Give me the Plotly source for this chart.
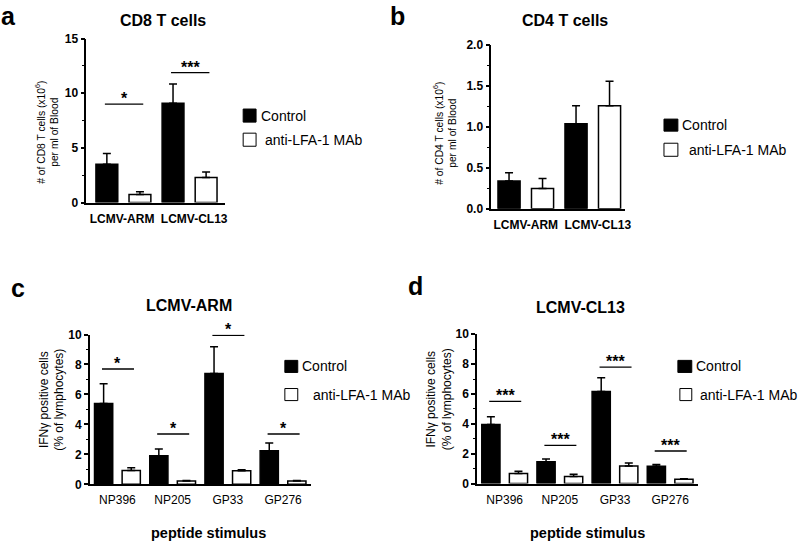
import plotly.graph_objects as go

W, H = 800, 542
FONT = "Liberation Sans, Arial, Helvetica, sans-serif"

# ---------------- data ----------------
# Panel a: CD8 T cells
a_cats = ["LCMV-ARM", "LCMV-CL13"]
a_control = [3.5, 9.1]
a_control_err = [1.0, 1.75]
a_anti = [0.73, 2.3]
a_anti_err = [0.25, 0.5]
a_sig_labels = ["*", "***"]
a_sig_y = [9.0, 11.9]

# Panel b: CD4 T cells
b_cats = ["LCMV-ARM", "LCMV-CL13"]
b_control = [0.34, 1.04]
b_control_err = [0.10, 0.22]
b_anti = [0.25, 1.26]
b_anti_err = [0.12, 0.30]

# Panel c: LCMV-ARM, IFNγ
peptides = ["NP396", "NP205", "GP33", "GP276"]
c_control = [5.4, 1.9, 7.4, 2.24]
c_control_err = [1.32, 0.46, 1.78, 0.52]
c_anti = [0.93, 0.22, 0.9, 0.22]
c_anti_err = [0.17, 0.03, 0.07, 0.03]
c_sig_labels = ["*", "*", "*", "*"]
c_sig_y = [7.7, 3.36, 9.95, 3.36]

# Panel d: LCMV-CL13, IFNγ
d_control = [3.96, 1.46, 6.16, 1.16]
d_control_err = [0.51, 0.18, 0.92, 0.11]
d_anti = [0.67, 0.47, 1.17, 0.28]
d_anti_err = [0.15, 0.16, 0.2, 0.04]
d_sig_labels = ["***", "***", "***", "***"]
d_sig_y = [5.5, 2.56, 7.8, 2.18]

series_names = ["Control", "anti-LFA-1 MAb"]

# ---------------- helpers ----------------
def px(x):
    return x / W

def py(y):
    y = (y - 8.5) / 0.969
    return 1 - y / H

fig = go.Figure()

panels = [
    dict(key="", cats=a_cats, ctrl=a_control, ctrl_err=a_control_err, anti=a_anti, anti_err=a_anti_err,
         xdom=(87, 227), xr=[-0.56, 1.54], ydom=(203, 40), yr=[0, 15], dtick=5, minor=2.5, fmt="d",
         catbold=True, lab_shift=[-0.02, 0.07], sig=a_sig_labels, sig_y=a_sig_y),
    dict(key="2", cats=b_cats, ctrl=b_control, ctrl_err=b_control_err, anti=b_anti, anti_err=b_anti_err,
         xdom=(495, 630), xr=[-0.515, 1.485], ydom=(209.3, 46.5), yr=[0, 2.0], dtick=0.5, minor=0.25, fmt=".1f",
         catbold=True, lab_shift=[0.0, 0.075], sig=None, sig_y=None),
    dict(key="3", cats=peptides, ctrl=c_control, ctrl_err=c_control_err, anti=c_anti, anti_err=c_anti_err,
         xdom=(90.5, 313), xr=[-0.5, 3.5], ydom=(483.3, 334.3), yr=[0, 10], dtick=2, minor=1, fmt="d",
         catbold=False, lab_shift=[0, 0, 0, 0], sig=c_sig_labels, sig_y=c_sig_y),
    dict(key="4", cats=peptides, ctrl=d_control, ctrl_err=d_control_err, anti=d_anti, anti_err=d_anti_err,
         xdom=(480.7, 703), xr=[-0.5, 3.5], ydom=(482.5, 334), yr=[0, 10], dtick=2, minor=1, fmt="d",
         catbold=False, lab_shift=[0, 0, 0, 0], sig=d_sig_labels, sig_y=d_sig_y),
]

shapes = []
annotations = []
layout_axes = {}

for p in panels:
    k = p["key"]
    xs = list(range(len(p["cats"])))
    for name, vals, errs, fill in [(series_names[0], p["ctrl"], p["ctrl_err"], "black"),
                                   (series_names[1], p["anti"], p["anti_err"], "white")]:
        fig.add_trace(go.Bar(
            x=xs, y=vals, name=name, showlegend=False,
            xaxis="x" + k, yaxis="y" + k,
            marker=dict(color=fill, line=dict(color="black", width=1.5)),
            error_y=dict(type="data", array=errs, arrayminus=[0] * len(errs), symmetric=False,
                         color="black", thickness=1.5, width=4),
        ))
    layout_axes["xaxis" + k] = dict(
        domain=[px(p["xdom"][0]), px(p["xdom"][1])], range=p["xr"], anchor="y" + k,
        showline=True, linecolor="black", linewidth=1.5, ticks="", showgrid=False, zeroline=False,
        tickvals=[i + s for i, s in zip(xs, p["lab_shift"])], ticktext=p["cats"],
        ticklabelstandoff=4, tickangle=0,
        tickfont=dict(family=FONT, size=12, color="black", weight="bold" if p["catbold"] else "normal"),
    )
    layout_axes["yaxis" + k] = dict(
        domain=[py(p["ydom"][0]), py(p["ydom"][1])], range=p["yr"], anchor="x" + k,
        showline=True, linecolor="black", linewidth=1.5, ticks="outside", ticklen=4, tickwidth=1.5,
        tickcolor="black", tick0=0, dtick=p["dtick"], tickformat=p["fmt"], showgrid=False, zeroline=False,
        minor=dict(dtick=p["minor"], tick0=0, ticks="outside", ticklen=2.5, tickwidth=1.2, tickcolor="black",
                   showgrid=False),
        tickfont=dict(family=FONT, size=12, color="black", weight="bold"),
    )
    if p["sig"]:
        for i, (lab, yv) in enumerate(zip(p["sig"], p["sig_y"])):
            shapes.append(dict(type="line", xref="x" + k, yref="y" + k, x0=i - 0.28, x1=i + 0.3,
                               y0=yv, y1=yv, line=dict(color="black", width=1.3)))
            annotations.append(dict(xref="x" + k, yref="y" + k, x=i + 0.01, y=yv, text=lab,
                                    showarrow=False, yanchor="bottom", yshift=-5,
                                    font=dict(family=FONT, size=16, color="black", weight="bold")))

# titles
titles = [("CD8 T cells", 164, 22), ("CD4 T cells", 569, 22), ("LCMV-ARM", 190, 305.5), ("LCMV-CL13", 585, 307)]
for t, x, y in titles:
    annotations.append(dict(xref="paper", yref="paper", x=px(x), y=py(y), text=t, showarrow=False,
                            xanchor="center", yanchor="middle",
                            font=dict(family=FONT, size=16, color="black", weight="bold")))

# panel letters
letters = [("a", 8.5, 17), ("b", 401, 17), ("c", 18.5, 288), ("d", 418.5, 286)]
for t, x, y in letters:
    annotations.append(dict(xref="paper", yref="paper", x=px(x), y=py(y), text=t, showarrow=False,
                            xanchor="center", yanchor="middle",
                            font=dict(family=FONT, size=25, color="black", weight="bold")))

# y-axis titles
ytitles = [("# of CD8 T cells (x10<sup>6</sup>)<br>per ml of Blood", 47, 133, 10.3),
           ("# of CD4 T cells (x10<sup>6</sup>)<br>per ml of Blood", 448, 134, 10.3),
           ("IFNγ positive cells<br>(% of lymphocytes)", 51.5, 399, 12),
           ("IFNγ positive cells<br>(% of lymphocytes)", 442, 399, 12)]
for t, x, y, s in ytitles:
    annotations.append(dict(xref="paper", yref="paper", x=px(x), y=py(y), text=t, showarrow=False,
                            textangle=-90, xanchor="center", yanchor="middle",
                            font=dict(family=FONT, size=s, color="black")))

# x-axis titles (bottom panels)
for x in (210, 592):
    annotations.append(dict(xref="paper", yref="paper", x=px(x), y=py(532), text="peptide stimulus",
                            showarrow=False, xanchor="center", yanchor="middle",
                            font=dict(family=FONT, size=14.5, color="black", weight="bold")))

# legends (drawn manually)
legends = [
    ((245, 110, 258, 123), 261, (245, 134, 258, 147), 265),
    ((669, 120, 683, 132), 685, (669, 144, 683, 157), 692),
    ((287, 360, 300, 372), 302, (287, 388, 300, 400), 313),
    ((683, 360, 697, 372), 699, (685, 388, 697, 400), 703),
]
for (b1, t1, b2, t2) in legends:
    for box, tx, fill, name in [(b1, t1, "black", series_names[0]), (b2, t2, "white", series_names[1])]:
        shapes.append(dict(type="rect", xref="paper", yref="paper", x0=px(box[0]), x1=px(box[2]),
                           y0=py(box[3]), y1=py(box[1]), fillcolor=fill,
                           line=dict(color="black", width=1)))
        annotations.append(dict(xref="paper", yref="paper", x=px(tx), y=py((box[1] + box[3]) / 2),
                                text=name, showarrow=False, xanchor="left", yanchor="middle",
                                font=dict(family=FONT, size=14, color="black")))

fig.update_layout(
    width=W, height=H, margin=dict(l=0, r=0, t=0, b=0),
    paper_bgcolor="white", plot_bgcolor="white",
    barmode="group", bargap=0, bargroupgap=0.34,
    showlegend=False, shapes=shapes, annotations=annotations,
    font=dict(family=FONT, color="black"),
    **layout_axes,
)

fig.write_html("out.html", config={"displayModeBar": False},
               post_script="document.body.style.margin='0';document.body.style.overflow='hidden';")
